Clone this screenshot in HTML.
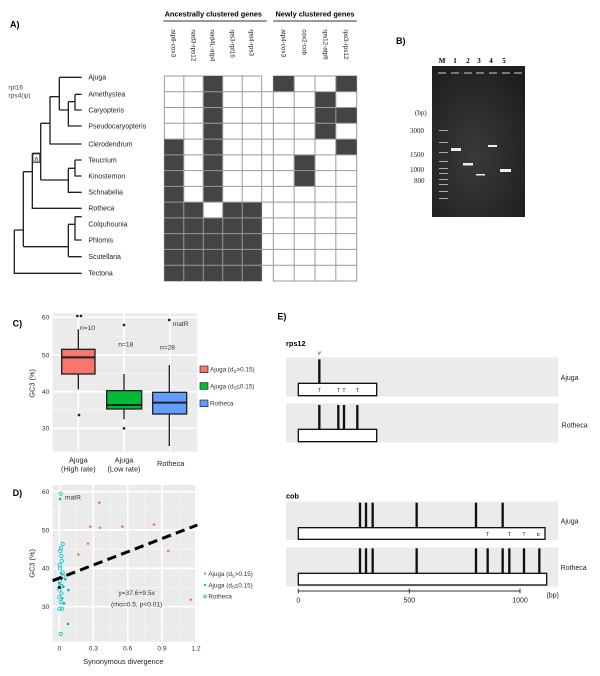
<!DOCTYPE html>
<html><head><meta charset="utf-8"><style>
html,body{margin:0;padding:0;background:#fff;}
svg{display:block;font-family:"Liberation Sans",Arial,sans-serif;}
</style></head><body>
<svg width="600" height="676" viewBox="0 0 600 676" xmlns="http://www.w3.org/2000/svg">
<rect width="600" height="676" fill="#fff"/>

<!-- PANEL A (zoom coords /3) -->
<g transform="scale(0.33333)">
<text x="30" y="82" font-size="27" font-weight="bold">A)</text>
<text x="640" y="50" font-size="22" font-weight="bold" text-anchor="middle">Ancestrally clustered genes</text>
<line x1="490" y1="63" x2="800" y2="63" stroke="#333" stroke-width="3"/>
<text x="945" y="50" font-size="22" font-weight="bold" text-anchor="middle">Newly clustered genes</text>
<line x1="820" y1="63" x2="1070" y2="63" stroke="#333" stroke-width="3"/>
<g font-size="19" fill="#222">
<text transform="translate(515,88) rotate(90)">atp8-cox3</text>
<text transform="translate(574,88) rotate(90)">nad3-rps12</text>
<text transform="translate(632,88) rotate(90)">nad4L-atp4</text>
<text transform="translate(691,88) rotate(90)">rps3-rpl16</text>
<text transform="translate(749,88) rotate(90)">rps4-rps3</text>
<text transform="translate(845,88) rotate(90)">atp4-cox3</text>
<text transform="translate(907,88) rotate(90)">cox2-cob</text>
<text transform="translate(970,88) rotate(90)">rps12-atp9</text>
<text transform="translate(1032,88) rotate(90)">rps3-rps12</text>
</g>
<!-- ancestral grid -->
<g stroke="#999" stroke-width="3" fill="#fff">
<rect x="493" y="228" width="292" height="615"/>
<rect x="820" y="228" width="250" height="615"/>
</g>
<g fill="#444">
<!-- col1 rows4-12 -->
<rect x="493" y="417" width="58.4" height="426"/>
<!-- col3 rows0-7 -->
<rect x="609.8" y="228" width="58.4" height="378.4"/>
<rect x="609.8" y="653.9" width="58.4" height="189.1"/>
<!-- cols 2,4,5 rows 8-12 -->
<rect x="551.4" y="606.4" width="58.4" height="236.6"/>
<rect x="668.2" y="606.4" width="116.8" height="236.6"/>
<!-- newly -->
<rect x="820" y="228" width="62.5" height="47.3"/>
<rect x="1007.5" y="228" width="62.5" height="47.3"/>
<rect x="945" y="275.3" width="62.5" height="141.9"/>
<rect x="1007.5" y="322.6" width="62.5" height="47.3"/>
<rect x="1007.5" y="417.2" width="62.5" height="47.3"/>
<rect x="882.5" y="464.5" width="62.5" height="94.6"/>
</g>
<g stroke="#999" stroke-width="3">
<line x1="551.4" y1="228" x2="551.4" y2="843"/><line x1="609.8" y1="228" x2="609.8" y2="843"/>
<line x1="668.2" y1="228" x2="668.2" y2="843"/><line x1="726.6" y1="228" x2="726.6" y2="843"/>
<line x1="882.5" y1="228" x2="882.5" y2="843"/><line x1="945" y1="228" x2="945" y2="843"/><line x1="1007.5" y1="228" x2="1007.5" y2="843"/>
<line x1="493" y1="275.3" x2="1070" y2="275.3"/><line x1="493" y1="322.6" x2="1070" y2="322.6"/>
<line x1="493" y1="369.9" x2="1070" y2="369.9"/><line x1="493" y1="417.2" x2="1070" y2="417.2"/>
<line x1="493" y1="464.5" x2="1070" y2="464.5"/><line x1="493" y1="511.8" x2="1070" y2="511.8"/>
<line x1="493" y1="559.1" x2="1070" y2="559.1"/><line x1="493" y1="606.4" x2="1070" y2="606.4"/>
<line x1="493" y1="653.7" x2="1070" y2="653.7"/><line x1="493" y1="701" x2="1070" y2="701"/>
<line x1="493" y1="748.3" x2="1070" y2="748.3"/><line x1="493" y1="795.6" x2="1070" y2="795.6"/>
</g>
<g stroke="#777" stroke-width="2" fill="#888" opacity="0.5">
</g>
<!-- tree -->
<g stroke="#222" stroke-width="4" fill="none">
<path d="M43,690 V820 H245"/>
<path d="M43,690 H70 M70,515 V740"/>
<path d="M70,740 H205 M205,673 V770 M205,770 H245 M205,673 H225 M225,650 V720 H245 M225,650 H245"/>
<path d="M70,515 H97 M97,460 V625 H245"/>
<path d="M97,460 H122 M122,370 V540"/>
<path d="M122,540 H205 M205,505 V577 H245 M205,505 H225 M225,480 V528 H245 M225,480 H245"/>
<path d="M122,370 H150 M150,290 V432 H245"/>
<path d="M150,290 H178 M178,232 V330 M178,232 H245 M178,330 H205 M205,305 V378 H245 M205,305 H225 M225,283 V330 H245 M225,283 H245"/>
</g>
<rect x="99" y="462" width="20" height="26" fill="#fff" stroke="#222" stroke-width="2"/>
<text x="109" y="484" font-size="20" text-anchor="middle">Δ</text>
<text x="25" y="268" font-size="20" fill="#444">rpl16</text>
<text x="25" y="292" font-size="20" fill="#444">rps4(ψ)</text>
<g font-size="21" fill="#222">
<text x="265" y="239">Ajuga</text><text x="265" y="290">Amethystea</text><text x="265" y="337">Caryopteris</text>
<text x="265" y="385">Pseudocaryopteris</text><text x="265" y="439">Clerodendrum</text><text x="265" y="487">Teucrium</text>
<text x="265" y="535">Kinostemon</text><text x="265" y="584">Schnabelia</text><text x="265" y="632">Rotheca</text>
<text x="265" y="680">Colquhounia</text><text x="265" y="727">Phlomis</text><text x="265" y="777">Scutellaria</text>
<text x="265" y="827">Tectona</text>
</g>
</g>

<!-- PANEL B gel -->
<text x="396" y="44" font-size="9" font-weight="bold">B)</text>
<g font-family="Liberation Serif,serif" font-size="7" font-weight="bold">
<text x="442" y="63" text-anchor="middle">M</text><text x="455" y="63" text-anchor="middle">1</text>
<text x="468" y="63" text-anchor="middle">2</text><text x="479" y="63" text-anchor="middle">3</text>
<text x="491" y="63" text-anchor="middle">4</text><text x="504" y="63" text-anchor="middle">5</text>
</g>
<defs><radialGradient id="gg" cx="0.45" cy="0.6" r="0.7"><stop offset="0" stop-color="#3a3a3a"/><stop offset="1" stop-color="#1e1e1e"/></radialGradient></defs>
<rect x="432" y="66" width="93" height="151" fill="url(#gg)"/>
<g fill="#777"><rect x="438" y="72" width="8" height="2"/><rect x="451" y="72" width="8" height="2"/><rect x="464" y="72" width="8" height="2"/><rect x="476" y="72" width="8" height="2"/><rect x="489" y="72" width="8" height="2"/><rect x="502" y="72" width="8" height="2"/><rect x="514" y="72" width="8" height="2"/></g>
<g fill="#aaa"><rect x="439" y="130" width="9" height="1"/><rect x="439" y="142" width="9" height="1"/><rect x="439" y="152" width="9" height="1"/><rect x="439" y="161" width="9" height="1"/><rect x="439" y="168" width="9" height="1"/><rect x="439" y="173" width="9" height="1"/><rect x="439" y="179" width="9" height="1"/><rect x="439" y="184" width="9" height="1"/><rect x="439" y="191" width="9" height="1"/><rect x="439" y="198" width="9" height="1"/></g>
<g fill="#eee"><rect x="451" y="148" width="10" height="3"/><rect x="463" y="163" width="10" height="2.5"/><rect x="476" y="174" width="9" height="1.5"/><rect x="488" y="145" width="9" height="2"/><rect x="500" y="169" width="11" height="3"/></g>
<g font-family="Liberation Serif,serif" font-size="7" fill="#222">
<text x="415" y="115">(bp)</text><text x="410" y="133">3000</text><text x="410" y="157">1500</text><text x="410" y="172">1000</text><text x="414" y="183">800</text>
</g>

<!-- PANEL C & D (zoom2 coords) -->
<g transform="translate(0,300) scale(0.33333)">
<text x="38" y="80" font-size="27" font-weight="bold">C)</text>
<rect x="158" y="40" width="434" height="415" fill="#ebebeb"/>
<g stroke="#f7f7f7" stroke-width="2"><line x1="158" y1="108" x2="592" y2="108"/><line x1="158" y1="220" x2="592" y2="220"/><line x1="158" y1="330" x2="592" y2="330"/><line x1="158" y1="440" x2="592" y2="440"/></g>
<g stroke="#fff" stroke-width="5"><line x1="158" y1="52" x2="592" y2="52"/><line x1="158" y1="165" x2="592" y2="165"/><line x1="158" y1="275" x2="592" y2="275"/><line x1="158" y1="385" x2="592" y2="385"/>
<line x1="235" y1="40" x2="235" y2="455"/><line x1="372" y1="40" x2="372" y2="455"/><line x1="510" y1="40" x2="510" y2="455"/></g>
<g stroke="#222" stroke-width="4">
<line x1="235" y1="88" x2="235" y2="268"/><rect x="185" y="148" width="100" height="74" fill="#f8766d"/><line x1="185" y1="172" x2="285" y2="172" stroke-width="6"/>
<line x1="372" y1="222" x2="372" y2="358"/><rect x="320" y="272" width="105" height="55" fill="#00ba38"/><line x1="320" y1="315" x2="425" y2="315" stroke-width="6"/>
<line x1="508" y1="195" x2="508" y2="438"/><rect x="458" y="277" width="102" height="65" fill="#619cff"/><line x1="458" y1="308" x2="560" y2="308" stroke-width="6"/>
</g>
<g fill="#222"><circle cx="232" cy="48" r="4"/><circle cx="243" cy="48" r="4"/><circle cx="237" cy="345" r="4"/><circle cx="372" cy="75" r="4"/><circle cx="372" cy="385" r="4"/><circle cx="508" cy="60" r="4"/></g>
<g font-size="20" fill="#333">
<text x="240" y="90">n=10</text><text x="355" y="140">n=18</text><text x="480" y="148">n=28</text><text x="518" y="78">matR</text>
<text x="148" y="59" text-anchor="end">60</text><text x="148" y="172" text-anchor="end">50</text><text x="148" y="282" text-anchor="end">40</text><text x="148" y="392" text-anchor="end">30</text>
</g>
<text transform="translate(103,250) rotate(-90)" font-size="22" text-anchor="middle" fill="#222">GC3 (%)</text>
<g font-size="22" fill="#222" text-anchor="middle">
<text x="235" y="488">Ajuga</text><text x="235" y="515">(High rate)</text>
<text x="372" y="488">Ajuga</text><text x="372" y="515">(Low rate)</text>
<text x="512" y="498">Rotheca</text>
</g>
<g stroke="#222" stroke-width="2">
<rect x="600" y="198" width="24" height="20" fill="#f8766d"/><rect x="600" y="248" width="24" height="20" fill="#00ba38"/><rect x="600" y="300" width="24" height="20" fill="#619cff"/>
</g>
<g font-size="19" fill="#333">
<text x="630" y="215">Ajuga (d<tspan font-size="13" dy="4">S</tspan><tspan dy="-4">&gt;0.15)</tspan></text>
<text x="630" y="265">Ajuga (d<tspan font-size="13" dy="4">S</tspan><tspan dy="-4">≤0.15)</tspan></text>
<text x="630" y="316">Rotheca</text>
</g>

<!-- D -->
<text x="38" y="588" font-size="27" font-weight="bold">D)</text>
<rect x="158" y="555" width="434" height="470" fill="#ebebeb"/>
<g stroke="#f7f7f7" stroke-width="2"><line x1="158" y1="632" x2="592" y2="632"/><line x1="158" y1="747" x2="592" y2="747"/><line x1="158" y1="862" x2="592" y2="862"/><line x1="158" y1="977" x2="592" y2="977"/>
<line x1="229" y1="555" x2="229" y2="1025"/><line x1="332" y1="555" x2="332" y2="1025"/><line x1="435" y1="555" x2="435" y2="1025"/><line x1="537" y1="555" x2="537" y2="1025"/></g>
<g stroke="#fff" stroke-width="5"><line x1="158" y1="575" x2="592" y2="575"/><line x1="158" y1="690" x2="592" y2="690"/><line x1="158" y1="805" x2="592" y2="805"/><line x1="158" y1="920" x2="592" y2="920"/>
<line x1="178" y1="555" x2="178" y2="1025"/><line x1="280" y1="555" x2="280" y2="1025"/><line x1="383" y1="555" x2="383" y2="1025"/><line x1="486" y1="555" x2="486" y2="1025"/><line x1="588" y1="555" x2="588" y2="1025"/></g>
<g font-size="20" fill="#333">
<text x="148" y="582" text-anchor="end">60</text><text x="148" y="697" text-anchor="end">50</text><text x="148" y="812" text-anchor="end">40</text><text x="148" y="927" text-anchor="end">30</text>
<text x="178" y="1052" text-anchor="middle">0</text><text x="280" y="1052" text-anchor="middle">0.3</text><text x="383" y="1052" text-anchor="middle">0.6</text><text x="486" y="1052" text-anchor="middle">0.9</text><text x="588" y="1052" text-anchor="middle">1.2</text>
<text x="195" y="598">matR</text>
</g>
<text transform="translate(103,790) rotate(-90)" font-size="22" text-anchor="middle" fill="#222">GC3 (%)</text>
<text x="370" y="1092" font-size="22" text-anchor="middle" fill="#222">Synonymous divergence</text>
<!-- red points -->
<g fill="#f8766d"><circle cx="298" cy="608" r="4"/><circle cx="271" cy="680" r="4"/><circle cx="300" cy="683" r="4"/><circle cx="367" cy="680" r="4"/><circle cx="462" cy="674" r="4"/><circle cx="264" cy="731" r="4"/><circle cx="235" cy="764" r="4"/><circle cx="245" cy="810" r="4"/><circle cx="505" cy="753" r="4"/><circle cx="572" cy="899" r="4"/></g>
<g fill="#00bfc4"><circle cx="180" cy="597" r="4"/><circle cx="196" cy="838" r="4"/><circle cx="205" cy="870" r="4"/><circle cx="204" cy="972" r="4"/><circle cx="190" cy="860" r="4"/><circle cx="183" cy="820" r="4"/><circle cx="192" cy="910" r="4"/><circle cx="178" cy="850" r="4"/><circle cx="186" cy="895" r="4"/></g>
<g fill="none" stroke="#00bfc4" stroke-width="2.5">
<circle cx="182" cy="581" r="5"/><circle cx="188" cy="732" r="5"/><circle cx="181" cy="753" r="5"/><circle cx="184" cy="768" r="5"/><circle cx="185" cy="783" r="5"/><circle cx="179" cy="795" r="5"/><circle cx="180" cy="805" r="5"/><circle cx="190" cy="829" r="5"/><circle cx="180" cy="842" r="5"/><circle cx="185" cy="858" r="5"/><circle cx="178" cy="868" r="5"/><circle cx="184" cy="880" r="5"/><circle cx="178" cy="892" r="5"/><circle cx="182" cy="906" r="5"/><circle cx="178" cy="926" r="5"/><circle cx="186" cy="926" r="5"/><circle cx="182" cy="1002" r="5"/><circle cx="182" cy="745" r="5"/><circle cx="188" cy="818" r="5"/>
</g>
<circle cx="178" cy="862" r="5" fill="#222"/><circle cx="185" cy="835" r="4" fill="#222"/>
<line x1="158" y1="842" x2="592" y2="675" stroke="#000" stroke-width="9" stroke-dasharray="28,16"/>
<g font-size="20" fill="#333" text-anchor="middle"><text x="410" y="885">y=37.6+9.5x</text><text x="410" y="920">(rho=0.5, p&lt;0.01)</text></g>
<circle cx="615" cy="821" r="3.5" fill="#f8766d"/><circle cx="615" cy="855" r="3.5" fill="#00bfc4"/><circle cx="615" cy="889" r="4" fill="none" stroke="#00bfc4" stroke-width="2.5"/>
<g font-size="19" fill="#333">
<text x="625" y="828">Ajuga (d<tspan font-size="13" dy="4">S</tspan><tspan dy="-4">&gt;0.15)</tspan></text>
<text x="625" y="862">Ajuga (d<tspan font-size="13" dy="4">S</tspan><tspan dy="-4">≤0.15)</tspan></text>
<text x="625" y="896">Rotheca</text>
</g>
</g>

<!-- PANEL E (zoom3 coords) -->
<g transform="translate(270,300) scale(0.33333)">
<text x="22" y="58" font-size="27" font-weight="bold">E)</text>
<text x="48" y="138" font-size="22" font-weight="bold">rps12</text>
<text x="48" y="595" font-size="22" font-weight="bold">cob</text>
<g fill="#ebebeb"><rect x="48" y="172" width="817" height="118"/><rect x="48" y="310" width="817" height="118"/><rect x="48" y="605" width="817" height="115"/><rect x="48" y="742" width="817" height="118"/></g>
<g fill="#fff" stroke="#111" stroke-width="4">
<rect x="85" y="250" width="235" height="37"/><rect x="85" y="388" width="235" height="37"/>
<rect x="85" y="683" width="740" height="35"/><rect x="85" y="820" width="745" height="35"/>
</g>
<g stroke="#111" stroke-width="7">
<line x1="148" y1="178" x2="148" y2="250"/>
<line x1="148" y1="315" x2="148" y2="388"/><line x1="205" y1="315" x2="205" y2="388"/><line x1="222" y1="315" x2="222" y2="388"/><line x1="262" y1="315" x2="262" y2="388"/>
<line x1="270" y1="608" x2="270" y2="683"/><line x1="288" y1="608" x2="288" y2="683"/><line x1="308" y1="608" x2="308" y2="683"/><line x1="440" y1="608" x2="440" y2="683"/><line x1="618" y1="608" x2="618" y2="683"/><line x1="698" y1="608" x2="698" y2="683"/>
<line x1="270" y1="745" x2="270" y2="820"/><line x1="288" y1="745" x2="288" y2="820"/><line x1="308" y1="745" x2="308" y2="820"/><line x1="440" y1="745" x2="440" y2="820"/><line x1="618" y1="745" x2="618" y2="820"/><line x1="653" y1="745" x2="653" y2="820"/><line x1="698" y1="745" x2="698" y2="820"/><line x1="718" y1="745" x2="718" y2="820"/><line x1="762" y1="745" x2="762" y2="820"/><line x1="808" y1="745" x2="808" y2="820"/>
</g>
<g font-size="17" fill="#333" text-anchor="middle">
<text x="148" y="165">#</text>
<text x="148" y="276">T</text><text x="205" y="276">T</text><text x="222" y="276">T</text><text x="262" y="276">T</text>
<text x="653" y="708">T</text><text x="718" y="708">T</text><text x="762" y="708">T</text><text x="805" y="708" font-weight="bold">c</text>
</g>
<g font-size="21" fill="#222">
<text x="872" y="240">Ajuga</text><text x="875" y="383">Rotheca</text><text x="872" y="670">Ajuga</text><text x="872" y="810">Rotheca</text>
</g>
<g stroke="#333" stroke-width="3"><line x1="85" y1="873" x2="750" y2="873"/><line x1="85" y1="866" x2="85" y2="880"/><line x1="418" y1="866" x2="418" y2="880"/><line x1="750" y1="866" x2="750" y2="880"/></g>
<g font-size="21" fill="#222" text-anchor="middle"><text x="85" y="908">0</text><text x="418" y="908">500</text><text x="750" y="908">1000</text><text x="848" y="892">(bp)</text></g>
</g>
</svg>
</body></html>
